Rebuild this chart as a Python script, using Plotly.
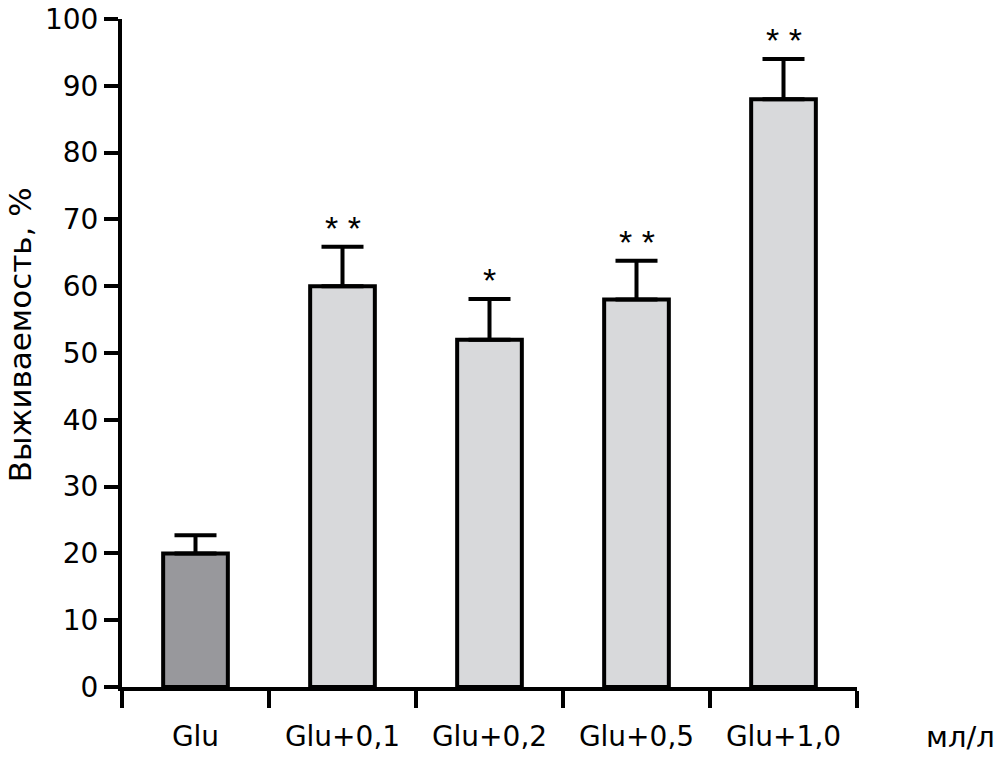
import plotly.graph_objects as go

# data
groups = ["Glu", "Glu+0,1", "Glu+0,2", "Glu+0,5", "Glu+1,0"]
survival = [20.0, 60.0, 52.0, 58.0, 88.0]
err_up = [2.7, 5.9, 6.1, 5.8, 6.0]
stars = ["", "* *", "*", "* *", "* *"]
bar_colors = ["#98989c", "#d8d9db", "#d8d9db", "#d8d9db", "#d8d9db"]

FONT = "DejaVu Sans, Liberation Sans, Arial, sans-serif"

bar_trace = go.Bar(
    x=groups,
    y=survival,
    width=0.44,
    marker=dict(color=bar_colors, line=dict(color="black", width=4)),
    error_y=dict(
        type="data",
        symmetric=False,
        array=err_up,
        arrayminus=[0] * len(err_up),
        color="black",
        thickness=4,
        width=21,
    ),
    hoverinfo="x+y",
)

fig = go.Figure(data=[bar_trace])

# significance marks above the error bars
for g, v, e, s in zip(groups, survival, err_up, stars):
    if s:
        fig.add_annotation(
            x=g, y=v + e, text=s, showarrow=False,
            yanchor="bottom", yshift=-2,
            font=dict(family="Liberation Sans, Arial", size=34, color="black"),
        )

# y title as annotation, pushed to the left edge and a bit above the middle
fig.add_annotation(
    x=-0.166, y=0.528, xref="paper", yref="paper", text="Выживаемость, %",
    textangle=-90, showarrow=False, xanchor="left", yanchor="middle",
    font=dict(family=FONT, size=31, color="black"),
)

fig.add_annotation(
    x=1.19, y=-0.075, xref="paper", yref="paper", text="мл/л",
    showarrow=False, xanchor="right", yanchor="middle",
    font=dict(family=FONT, size=29, color="black"),
)

fig.update_layout(
    width=1000,
    height=757,
    plot_bgcolor="white",
    paper_bgcolor="white",
    showlegend=False,
    margin=dict(l=122, r=143, t=19, b=70),
    font=dict(family=FONT, size=28, color="black"),
    xaxis=dict(
        type="category",
        range=[-0.5, 4.5],
        tickson="boundaries",
        ticks="outside",
        ticklen=17,
        tickwidth=4,
        tickcolor="black",
        showline=True,
        linewidth=4,
        linecolor="black",
        showgrid=False,
        zeroline=False,
        automargin=False,
        ticklabelstandoff=21,
        ticklabeloverflow="allow",
        tickfont=dict(family=FONT, size=28, color="black"),
    ),
    yaxis=dict(
        range=[0, 100],
        tick0=0,
        dtick=10,
        ticks="outside",
        ticklen=14,
        tickwidth=4,
        tickcolor="black",
        showline=True,
        linewidth=4,
        linecolor="black",
        showgrid=False,
        zeroline=False,
        automargin=False,
        ticklabelstandoff=0,
        ticklabeloverflow="allow",
        tickfont=dict(family=FONT, size=28, color="black"),
    ),
)

# drop the default page margin so the figure sits in the window corner
fig.write_html(
    "out.html",
    config={"displayModeBar": False},
    post_script="document.body.style.margin = '0px';",
)
